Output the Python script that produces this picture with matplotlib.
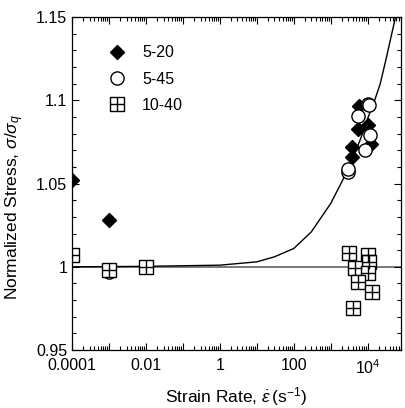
import matplotlib
matplotlib.use("Agg")
import matplotlib.pyplot as plt
from matplotlib.ticker import FixedLocator, FixedFormatter, MultipleLocator, LogLocator, NullFormatter
from matplotlib.lines import Line2D

plt.rcParams['font.family'] = ['Liberation Sans', 'DejaVu Sans']
plt.rcParams['mathtext.fontset'] = 'custom'
plt.rcParams['mathtext.rm'] = 'Liberation Sans'
plt.rcParams['mathtext.it'] = 'Liberation Sans:italic'

# ---- data ----
rate_520 = [1e-4, 1e-3, 3.9e3, 3.9e3, 5.4e3, 6.0e3, 1.05e4, 1.2e4]
stress_520 = [1.052, 1.028, 1.066, 1.072, 1.083, 1.0965, 1.085, 1.074]

rate_545 = [1e-3, 2.9e3, 3.0e3, 5.4e3, 8.3e3, 1.0e4, 1.15e4, 1.1e4]
stress_545 = [0.997, 1.057, 1.059, 1.0905, 1.070, 1.0978, 1.079, 1.0975]

rate_1040 = [1e-4, 1e-3, 1e-2, 3.2e3, 1.05e4, 1.1e4, 4.5e3, 1.0e4, 5.4e3, 1.3e4, 4.0e3]
stress_1040 = [1.007, 0.998, 0.9998, 1.0083, 1.007, 1.003, 0.999, 0.996, 0.991, 0.985, 0.975]

curve_rate = [1e-4, 1e-2, 1, 10, 30, 100, 300, 1e3, 2e3, 4e3, 7e3, 1e4, 1.5e4, 2.2e4, 3.1e4, 4.2e4, 5.7e4]
curve_stress = [1.000, 1.0003, 1.001, 1.003, 1.006, 1.011, 1.021, 1.038, 1.051, 1.065, 1.079,
                1.089, 1.099, 1.110, 1.124, 1.137, 1.150]

ref_rate = [1e-4, 8e4]
ref_stress = [1.0, 1.0]

xtick_vals = [1e-4, 1e-2, 1, 100, 1e4]
xtick_labels = ['0.0001', '0.01', '1', '100', r'$10^4$']
ytick_vals = [0.95, 1.0, 1.05, 1.1, 1.15]
ytick_labels = ['0.95', '1', '1.05', '1.1', '1.15']

fig = plt.figure(figsize=(4.05, 4.08), dpi=100)
ax = fig.add_axes([0.178, 0.142, 0.812, 0.816])

ax.plot(ref_rate, ref_stress, color='#555555', lw=1.1, zorder=1)
ax.plot(curve_rate, curve_stress, color='black', lw=1.0, zorder=1)

ax.plot(rate_520, stress_520, 'D', ms=7.5, color='black', mec='black', ls='none', zorder=3)
ax.plot(rate_545, stress_545, 'o', ms=9.5, mfc='white', mec='black', mew=1.0, ls='none', zorder=4)
ax.plot(rate_1040, stress_1040, 's', ms=10, mfc='white', mec='black', mew=1.0, ls='none', zorder=5)
ax.plot(rate_1040, stress_1040, '+', ms=10, mec='black', mew=1.0, ls='none', zorder=6)

h1 = Line2D([], [], marker='D', ms=7.5, color='black', ls='none')
h2 = Line2D([], [], marker='o', ms=9.5, mfc='white', mec='black', ls='none')
h3a = Line2D([], [], marker='s', ms=10, mfc='white', mec='black', ls='none')
h3b = Line2D([], [], marker='+', ms=10, mec='black', mew=1.0, ls='none')
ax.legend([h1, h2, (h3a, h3b)], ['5-20', '5-45', '10-40'], loc='upper left',
          bbox_to_anchor=(0.07, 0.934), frameon=False, fontsize=11.5,
          handletextpad=0.55, labelspacing=0.7, borderaxespad=0)

ax.set_xscale('log')
ax.set_xlim(1e-4, 8e4)
ax.set_ylim(0.95, 1.15)

ax.xaxis.set_major_locator(LogLocator(base=10, numticks=20))
ax.xaxis.set_major_formatter(NullFormatter())
ax.xaxis.set_minor_locator(LogLocator(base=10, subs=range(2, 10), numticks=100))
ax.xaxis.set_minor_formatter(NullFormatter())
for v, lab in zip(xtick_vals, xtick_labels):
    ax.text(v, -0.025, lab, transform=ax.get_xaxis_transform(), ha='center', va='top', fontsize=11.5)

ax.yaxis.set_major_locator(FixedLocator(ytick_vals))
ax.yaxis.set_major_formatter(FixedFormatter(ytick_labels))
ax.yaxis.set_minor_locator(MultipleLocator(0.01))

ax.tick_params(which='both', direction='in', top=True, right=True, labelsize=11.5, width=0.8)
ax.tick_params(which='major', length=5)
ax.tick_params(which='minor', length=3)
for s in ax.spines.values():
    s.set_linewidth(0.9)

ax.set_xlabel(r'Strain Rate, $\dot{\varepsilon}\,$(s$^{-1}$)', fontsize=12.5, labelpad=22)
ax.set_ylabel(r'Normalized Stress, $\sigma/\sigma_q$', fontsize=12.5)
ax.yaxis.set_label_coords(-0.14, 0.43)

fig.savefig('out.png', dpi=100)
